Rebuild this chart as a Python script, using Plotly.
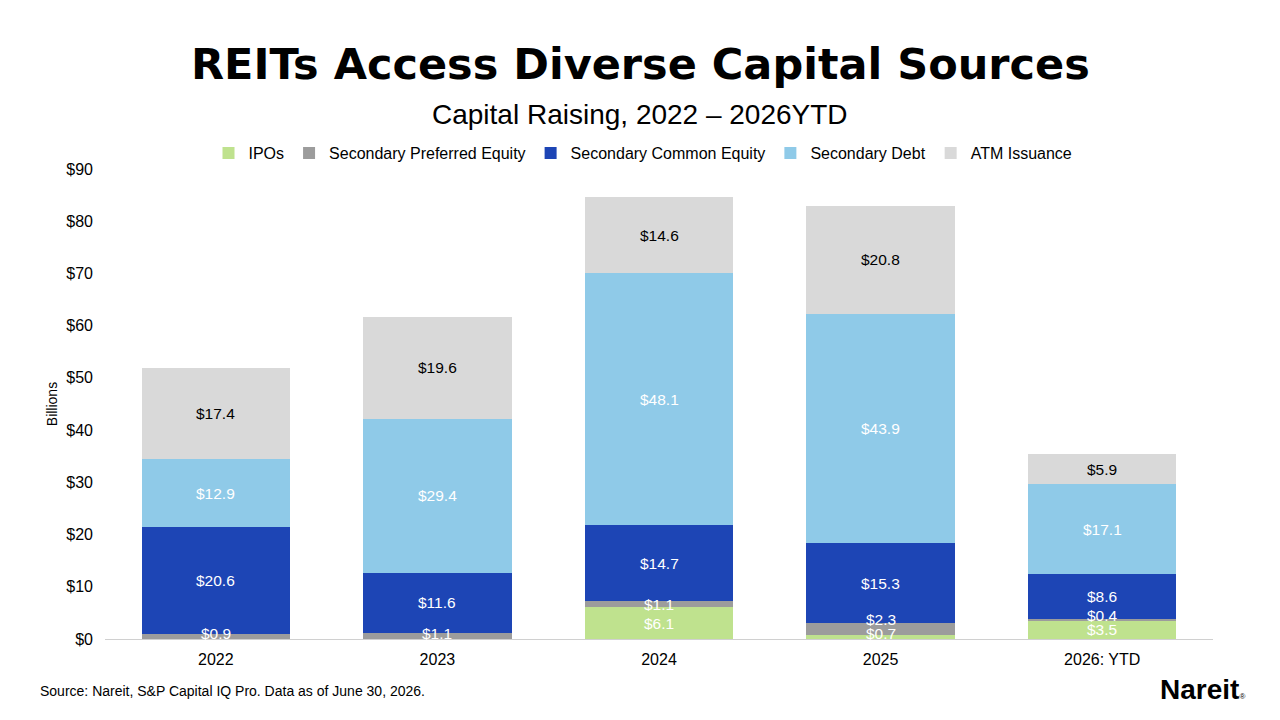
import plotly.graph_objects as go

categories = ["2022", "2023", "2024", "2025", "2026: YTD"]
series_names = ["IPOs", "Secondary Preferred Equity", "Secondary Common Equity", "Secondary Debt", "ATM Issuance"]
ipos = [0.0, 0.0, 6.1, 0.7, 3.5]
pref_equity = [0.9, 1.1, 1.1, 2.3, 0.4]
common_equity = [20.6, 11.6, 14.7, 15.3, 8.6]
debt = [12.9, 29.4, 48.1, 43.9, 17.1]
atm = [17.4, 19.6, 14.6, 20.8, 5.9]
y_ticks = [0, 10, 20, 30, 40, 50, 60, 70, 80, 90]

series_values = [ipos, pref_equity, common_equity, debt, atm]
colors = ["#bfe28e", "#9c9c9c", "#1d45b5", "#8fcae8", "#d9d9d9"]
label_colors = ["white", "white", "white", "white", "black"]

FONT = "Liberation Sans, Arial, sans-serif"
TITLE_FONT = "DejaVu Sans, Liberation Sans, sans-serif"

fig = go.Figure()
for name, vals, col in zip(series_names, series_values, colors):
    fig.add_trace(go.Bar(
        x=categories, y=vals, name=name, marker=dict(color=col, line=dict(width=0)),
        hoverinfo="skip",
    ))

# data labels placed at segment midpoints (avoiding overlap of tiny segments)
annotations = []
for i, cat in enumerate(categories):
    base = 0.0
    prev_label = None
    for s, vals in enumerate(series_values):
        v = vals[i]
        if v > 0:
            mid = base + v / 2
            ly = max(mid, 1.0)
            if prev_label is not None:
                ly = max(ly, prev_label + 2.8)
            prev_label = ly
            annotations.append(dict(
                x=i, y=ly, xref="x", yref="y", text=f"${v:.1f}", showarrow=False,
                font=dict(family=FONT, size=15.5, color=label_colors[s]),
                xanchor="center", yanchor="middle",
            ))
        base += v

fig_texts = [
    dict(text="<b>REITs Access Diverse Capital Sources</b>",
         x=0.5, y=(720 - 64) / 720, xanchor="center", yanchor="middle", showarrow=False,
         font=dict(family=TITLE_FONT, size=43, color="black")),
    dict(text="Capital Raising, 2022 \u2013 2026YTD",
         x=0.5, y=(720 - 115) / 720, xanchor="center", yanchor="middle", showarrow=False,
         font=dict(family=FONT, size=28, color="black")),
    dict(text="Source: Nareit, S&P Capital IQ Pro. Data as of June 30, 2026.",
         x=38 / 1280, y=(720 - 691) / 720, xanchor="left", yanchor="middle", showarrow=False,
         font=dict(family=FONT, size=14, color="black")),
    dict(text="<b>Nareit</b><span style='font-size:8px'>\u00ae</span>",
         x=1247 / 1280, y=(720 - 689) / 720, xanchor="right", yanchor="middle", showarrow=False,
         font=dict(family=FONT, size=28, color="black")),
]
for a in fig_texts:
    a["xref"] = "paper"
    a["yref"] = "paper"
    a["x"] = (a["x"] * 1280 - 105) / (1213 - 105)
    a["y"] = (a["y"] * 720 - 81) / (639 - 169)
annotations += fig_texts

fig.update_layout(
    width=1280, height=720,
    barmode="stack", bargap=0.33,
    paper_bgcolor="white", plot_bgcolor="white",
    margin=dict(l=105, r=67, t=169, b=81),
    font=dict(family=FONT, size=16, color="black"),
    showlegend=True,
    legend=dict(orientation="h", x=(643 - 105) / 1108, xanchor="center", y=(720 - 153 - 81) / 470,
                yanchor="middle",
                font=dict(family=FONT, size=16, color="black"), traceorder="normal",
                itemwidth=30, bgcolor="rgba(0,0,0,0)"),
    annotations=annotations,
    xaxis=dict(type="category", showline=True, linecolor="#d0d0d0", linewidth=1, ticks="",
               ticklabelstandoff=6,
               tickfont=dict(family=FONT, size=16, color="black"), showgrid=False),
    yaxis=dict(range=[0, 90], tickvals=y_ticks, ticktext=[f"${t}" for t in y_ticks],
               showgrid=False, zeroline=False, showline=False, ticks="",
               ticklabelstandoff=11,
               tickfont=dict(family=FONT, size=16, color="black"),
               title=dict(text="Billions", font=dict(family=FONT, size=14, color="black"), standoff=5)),
)

fig.write_html("out.html")
